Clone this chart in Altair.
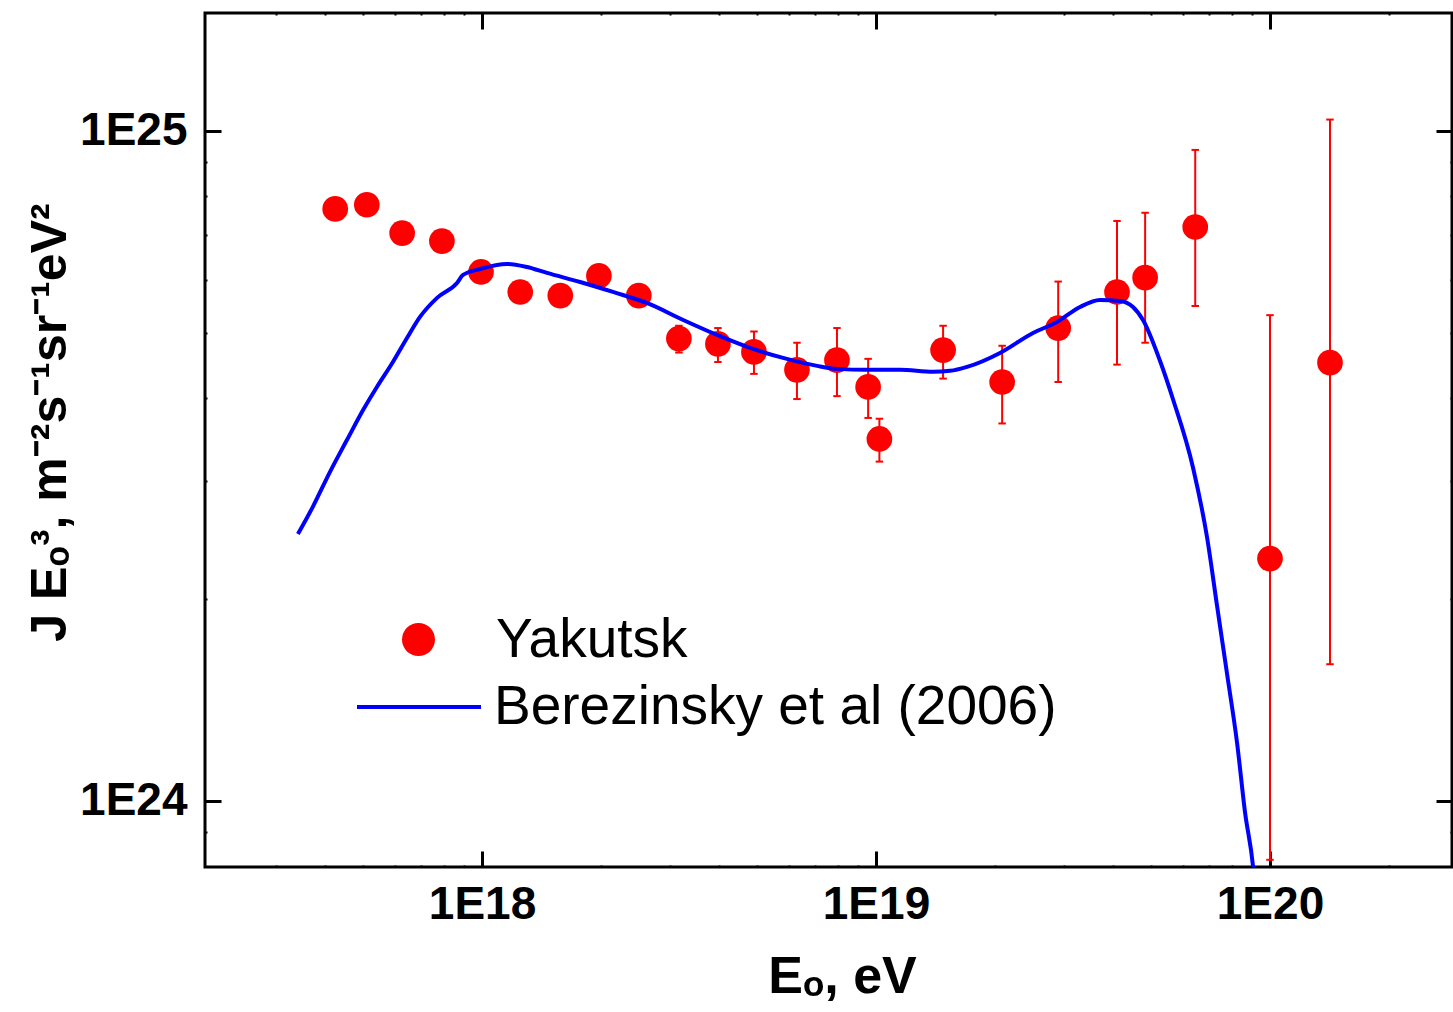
import altair as alt
import pandas as pd

# ---------------- data ----------------
yak_E = [4.24e17, 5.10e17, 6.27e17, 7.91e17, 9.94e17, 1.25e18, 1.58e18, 1.98e18,
         2.50e18, 3.16e18, 3.97e18, 4.90e18, 6.30e18, 7.96e18, 9.55e18, 1.02e19,
         1.48e19, 2.09e19, 2.90e19, 4.09e19, 4.82e19, 6.46e19, 1.00e20, 1.42e20]
yak_J = [7.65e24, 7.76e24, 7.04e24, 6.85e24, 6.16e24, 5.75e24, 5.68e24, 6.08e24,
         5.68e24, 4.90e24, 4.81e24, 4.68e24, 4.40e24, 4.55e24, 4.15e24, 3.47e24,
         4.71e24, 4.22e24, 5.08e24, 5.75e24, 6.04e24, 7.19e24, 2.30e24, 4.51e24]
yak_hi = [None] * 9 + [5.12e24, 5.08e24, 5.02e24, 4.83e24, 5.08e24, 4.57e24, 3.72e24,
                       5.12e24, 4.78e24, 5.96e24, 7.34e24, 7.55e24, 9.37e24, 5.31e24, 1.04e25]
yak_lo = [None] * 9 + [4.67e24, 4.52e24, 4.34e24, 3.98e24, 4.02e24, 3.73e24, 3.21e24,
                       4.27e24, 3.66e24, 4.22e24, 4.48e24, 4.83e24, 5.48e24, 8.17e23, 1.60e24]

ber_E = [3.41e17, 3.72e17, 4.11e17, 4.54e17, 4.99e17, 5.41e17, 5.94e17, 6.45e17,
         6.96e17, 7.69e17, 8.64e17, 8.95e17, 9.88e17, 1.158e18, 1.30e18, 1.462e18,
         1.774e18, 2.15e18, 2.62e18, 3.24e18, 3.95e18, 4.79e18, 5.81e18, 7.09e18,
         7.96e18, 9.49e18, 1.150e19, 1.395e19, 1.541e19, 1.702e19, 2.064e19, 2.503e19,
         2.88e19, 3.294e19, 3.70e19, 4.16e19, 4.49e19, 4.76e19, 5.26e19, 5.67e19,
         6.38e19, 6.92e19, 7.34e19, 7.78e19, 8.25e19, 8.64e19, 9.06e19, 9.22e19]
ber_J = [2.503e24, 2.748e24, 3.097e24, 3.457e24, 3.833e24, 4.149e24, 4.521e24, 4.91e24,
         5.278e24, 5.635e24, 5.932e24, 6.098e24, 6.223e24, 6.332e24, 6.266e24, 6.14e24,
         5.951e24, 5.751e24, 5.538e24, 5.223e24, 4.961e24, 4.745e24, 4.585e24, 4.461e24,
         4.415e24, 4.40e24, 4.40e24, 4.37e24, 4.385e24, 4.445e24, 4.664e24, 4.995e24,
         5.187e24, 5.462e24, 5.595e24, 5.576e24, 5.462e24, 5.223e24, 4.536e24, 3.981e24,
         3.141e24, 2.477e24, 1.954e24, 1.548e24, 1.221e24, 9.63e23, 7.97e23, 7.12e23]

x_ticks = [3e17, 4e17, 5e17, 6e17, 7e17, 8e17, 9e17, 1e18,
           2e18, 3e18, 4e18, 5e18, 6e18, 7e18, 8e18, 9e18, 1e19,
           2e19, 3e19, 4e19, 5e19, 6e19, 7e19, 8e19, 9e19, 1e20, 2e20]
y_ticks = [9e23, 1e24, 2e24, 3e24, 4e24, 5e24, 6e24, 7e24, 8e24, 9e24, 1e25]
x_labels = [1e18, 1e19, 1e20]
y_labels = [1e24, 1e25]

X_DOMAIN = [1.981e17, 2.897e20]
Y_DOMAIN = [7.97e23, 1.50e25]

SERIES_PTS = "Yakutsk"
SERIES_LINE = "Berezinsky et al (2006)"

# ---------------- layout / style ----------------
W, H = 1247, 854
FONT = "Liberation Sans"
RED = "#ff0000"
BLUE = "#0000ff"

pts = pd.DataFrame({"E": yak_E, "J": yak_J, "lo": yak_lo, "hi": yak_hi, "s": SERIES_PTS})
err = pts.dropna(subset=["lo"]).copy()
caps = pd.DataFrame({"E": list(err["E"]) * 2, "J": list(err["lo"]) + list(err["hi"])})
line = pd.DataFrame({"E": ber_E, "J": ber_J, "s": SERIES_LINE})

xs = alt.Scale(type="log", domain=X_DOMAIN, nice=False)
ys = alt.Scale(type="log", domain=Y_DOMAIN, nice=False)

MAJOR = "abs(log(datum.value)/LN10 - round(log(datum.value)/LN10)) < 0.001"
tick_size = {"condition": {"test": MAJOR, "value": 16}, "value": 2}
tick_width = {"condition": {"test": MAJOR, "value": 3}, "value": 2}
LABEL_EXPR = "'1E' + round(log(datum.value)/LN10)"


def tick_axis(orient, offset, values):
    return alt.Axis(orient=orient, offset=offset, values=values, labels=False,
                    domain=False, grid=False, ticks=True, tickSize=tick_size,
                    tickWidth=tick_width, tickColor="black")


x_label_axis = alt.Axis(orient="bottom", values=x_labels, labelExpr=LABEL_EXPR,
                        ticks=False, tickSize=0, domain=False, grid=False,
                        labelFont=FONT, labelFontSize=46, labelFontWeight="bold",
                        labelColor="black", labelPadding=15, labelOverlap=False,
                        labelFlush=False,
                        titleFont=FONT, titleFontSize=52, titleFontWeight="bold",
                        titleColor="black", titleX=637, titleY=125,
                        titleAlign="center", titleBaseline="alphabetic")
y_label_axis = alt.Axis(orient="left", values=y_labels, labelExpr=LABEL_EXPR,
                        ticks=False, tickSize=0, domain=False, grid=False,
                        labelFont=FONT, labelFontSize=46, labelFontWeight="bold",
                        labelColor="black", labelPadding=18, labelOverlap=False,
                        titleFont=FONT, titleFontSize=50, titleFontWeight="bold",
                        titleColor="black", titleAngle=270, titleX=-155, titleY=409,
                        titleAlign="center", titleBaseline="middle")

errors = alt.Chart(err).mark_rule(color=RED, strokeWidth=2).encode(
    x=alt.X("E:Q", scale=xs, axis=tick_axis("bottom", -H, x_ticks), title=None),
    y=alt.Y("lo:Q", scale=ys, axis=tick_axis("left", -W, y_ticks), title=None),
    y2="hi:Q",
)

cap_marks = alt.Chart(caps).mark_point(shape="stroke", size=56, strokeWidth=2,
                                       color=RED, filled=False, opacity=1).encode(
    x=alt.X("E:Q", scale=xs, axis=None),
    y=alt.Y("J:Q", scale=ys, axis=None),
)

points = alt.Chart(pts).mark_circle(size=660, opacity=1).encode(
    x=alt.X("E:Q", scale=xs, axis=x_label_axis, title="Eₒ, eV"),
    y=alt.Y("J:Q", scale=ys, axis=y_label_axis, title="J Eₒ³, m⁻²s⁻¹sr⁻¹eV²"),
    color=alt.Color("s:N", scale=alt.Scale(domain=[SERIES_PTS], range=[RED]),
                    legend=alt.Legend(orient="none", legendX=186, legendY=599,
                                      title=None, labelFont=FONT, labelFontSize=55,
                                      labelColor="black", labelLimit=1000,
                                      symbolType="circle", symbolSize=1089,
                                      symbolStrokeWidth=0, symbolOpacity=1,
                                      labelOffset=50, padding=0)),
)

curve = alt.Chart(line).mark_line(strokeWidth=4, clip=True, interpolate="monotone").encode(
    x=alt.X("E:Q", scale=xs, axis=tick_axis("top", -H, x_ticks), title=None),
    y=alt.Y("J:Q", scale=ys, axis=tick_axis("right", -W, y_ticks), title=None),
    stroke=alt.Stroke("s:N", scale=alt.Scale(domain=[SERIES_LINE], range=[BLUE]),
                      legend=alt.Legend(orient="none", legendX=150, legendY=630,
                                        title=None, labelFont=FONT, labelFontSize=55,
                                        labelColor="black", labelLimit=1000,
                                        symbolType="stroke", symbolSize=15376,
                                        symbolStrokeWidth=4, labelOffset=11,
                                        padding=0)),
)

chart = alt.layer(errors, cap_marks, points, curve).resolve_axis(
    x="independent", y="independent"
).properties(
    width=W, height=H,
    padding={"left": 205, "top": 13, "right": 1, "bottom": 145},
    autosize=alt.AutoSizeParams(type="none"),
    background="white",
).configure_view(stroke="black", strokeWidth=3)

chart.save("out.html", embed_options={"renderer": "svg", "actions": False})
